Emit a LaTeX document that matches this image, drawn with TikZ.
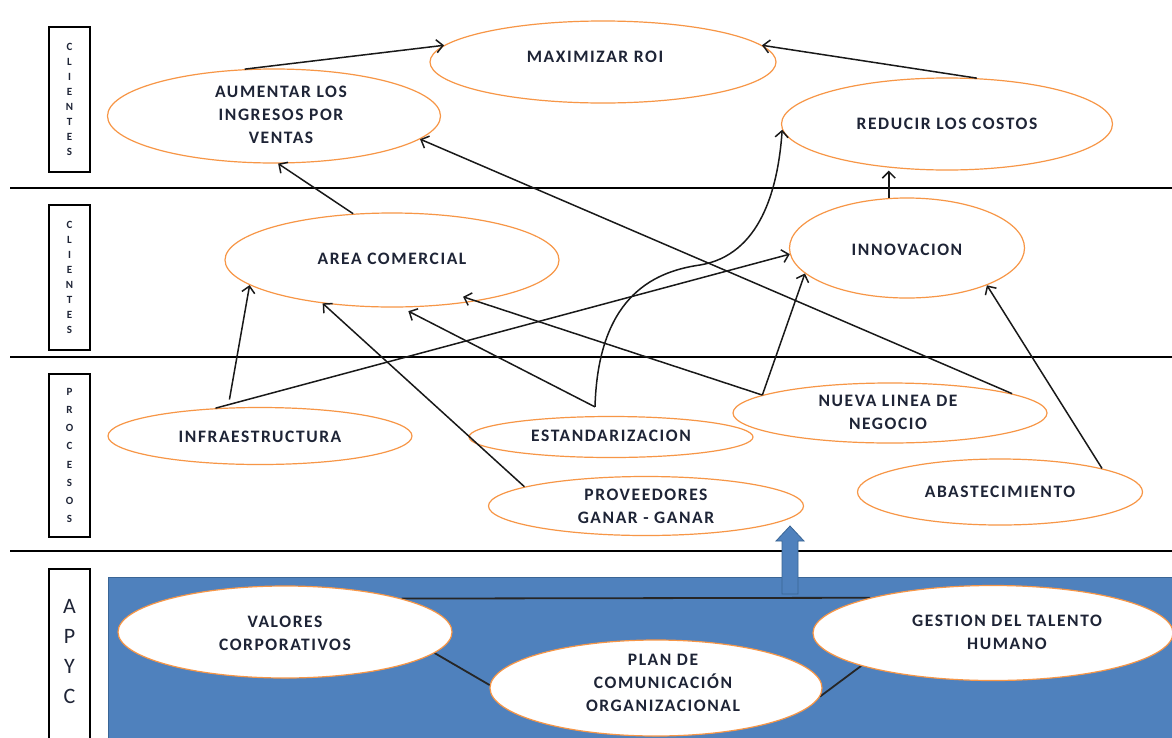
\documentclass[tikz,border=0pt]{standalone}
\usepackage{fontspec}
\setmainfont{Carlito}
\newfontfamily\lblfamily[LetterSpace=9]{Carlito}
\newcommand\lblfont{\lblfamily\bfseries\fontsize{17.5}{23}\selectfont}
\newcommand\sidefont{\bfseries\fontsize{11}{15}\selectfont}
\usetikzlibrary{shapes.geometric,arrows.meta,calc}
\definecolor{ovalline}{HTML}{F79646}
\definecolor{apycblue}{HTML}{4F81BD}
\definecolor{apycedge}{HTML}{3A6595}
\definecolor{ink}{HTML}{1E2436}
\pgfdeclarelayer{back}
\pgfdeclarelayer{mid}
\pgfsetlayers{back,mid,main}
\begin{document}
\begin{tikzpicture}[x=1pt,y=-1pt,
  oval/.style={ellipse, draw=ovalline, fill=white, line width=1.2pt, inner sep=0pt},
  lbl/.style={align=center, text=ink, font=\lblfont, inner sep=0pt},
  arr/.style={draw=black!90, line width=1.5pt, -{Straight Barb[length=6.5pt,width=13pt]}},
  link/.style={draw=black!85, line width=1.8pt},
  band/.style={draw=black, line width=1.5pt},
  sidebox/.style={draw=black, line width=1.8pt, minimum width=41pt, inner sep=0pt, align=center, text=ink, font=\sidefont}]
\useasboundingbox (0,0) rectangle (1172,737);

% perspective bands and the support area
\begin{pgfonlayer}{back}
  \fill[white] (0,0) rectangle (1172,737);
  \draw[band] (10,188) -- (1172,188);
  \draw[band] (10,357) -- (1172,357);
  \draw[band] (10,551) -- (1172,551);
  \fill[apycblue] (108,577) rectangle (1180,745);
  \draw[apycedge, line width=1pt] (1180,577) -- (108,577) -- (108,745);
\end{pgfonlayer}

% side labels
\node[sidebox, minimum height=145pt] (s1) at (69.5,99.5) {C\\L\\I\\E\\N\\T\\E\\S};
\node[sidebox, minimum height=145pt] (s2) at (69.5,277.5) {C\\L\\I\\E\\N\\T\\E\\S};
\node[sidebox, minimum height=163pt, font=\bfseries\fontsize{11}{18.1}\selectfont] (s3) at (69.5,455.5) {P\\R\\O\\C\\E\\S\\O\\S};
\draw[line width=1.8pt] (49,745) -- (49,569) -- (90,569) -- (90,745);
\node[text=ink, font=\fontsize{22}{30}\selectfont, align=center] (s4) at (69.5,652) {A\\P\\Y\\C};

% block arrow from the support layer
\draw[fill=apycblue, draw=apycedge, line width=0.8pt]
  (782,594) -- (782,541) -- (776,541) -- (790,526) -- (804,541) -- (798,541) -- (798,594) -- cycle;

% objectives
\node[oval, minimum width=346pt, minimum height=82pt] (maxroi) at (603,62) {};
\node[lbl] (maxroi-t) at (595,57) {MAXIMIZAR ROI};
\node[oval, minimum width=333pt, minimum height=94pt] (aum) at (274,116) {};
\node[lbl] (aum-t) at (281,115) {AUMENTAR LOS\\INGRESOS POR\\VENTAS};
\node[oval, minimum width=331pt, minimum height=92pt] (red) at (947,124) {};
\node[lbl] (red-t) at (947,124) {REDUCIR LOS COSTOS};
\node[oval, minimum width=334pt, minimum height=94pt] (area) at (392,260) {};
\node[lbl] (area-t) at (392,259) {AREA COMERCIAL};
\node[oval, minimum width=235pt, minimum height=100pt] (innov) at (907,248) {};
\node[lbl] (innov-t) at (907,250) {INNOVACION};
\node[oval, minimum width=304pt, minimum height=57pt] (infra) at (260,436) {};
\node[lbl] (infra-t) at (260,437) {INFRAESTRUCTURA};
\node[oval, minimum width=284pt, minimum height=41pt] (estand) at (611,437) {};
\node[lbl] (estand-t) at (611,436) {ESTANDARIZACION};
\node[oval, minimum width=314pt, minimum height=60pt] (nueva) at (890,413) {};
\node[lbl] (nueva-t) at (888,412) {NUEVA LINEA DE\\NEGOCIO};
\node[oval, minimum width=315pt, minimum height=59pt] (prov) at (646,506) {};
\node[lbl] (prov-t) at (646,506) {PROVEEDORES\\GANAR - GANAR};
\node[oval, minimum width=285pt, minimum height=66pt] (abast) at (1000,492) {};
\node[lbl] (abast-t) at (1000,492) {ABASTECIMIENTO};

% support layer
\node[oval, minimum width=334pt, minimum height=92pt] (valores) at (285,632) {};
\node[lbl] (valores-t) at (285,633) {VALORES\\CORPORATIVOS};
\node[oval, minimum width=332pt, minimum height=96pt] (plan) at (656,688) {};
\node[lbl] (plan-t) at (663,683) {PLAN DE\\COMUNICACIÓN\\ORGANIZACIONAL};
\node[oval, minimum width=360pt, minimum height=95pt] (gestion) at (993,633) {};
\node[lbl] (gestion-t) at (1007,632) {GESTION DEL TALENTO\\HUMANO};

\begin{pgfonlayer}{mid}
  \draw[link] (valores.16) -- (gestion.164);
  \draw[link] (valores.-8) -- (plan.179);
  \draw[link] (plan.-3) -- (gestion.-166);
\end{pgfonlayer}

% cause-effect links
\coordinate (infra-top) at ([shift={(0,-8)}]infra.137);
\coordinate (estand-top) at ([shift={(-16,-9)}]estand.north);
\coordinate (nueva-v) at (nueva.172);

\draw[arr] (aum.122) -- (maxroi.174);
\draw[arr] (red.57) -- (maxroi.6);
\draw[arr] (area.130) -- (aum.-85);
\draw[arr] (nueva.9) -- (aum.-9);
\draw[arr] (infra-top) -- (area.190);
\draw[arr] (infra.148) -- (innov.183);
\draw[arr] (prov.171) -- (area.212);
\draw[arr, shorten >=8pt] (estand-top) -- (area.-79);
\draw[arr] (estand-top) .. controls (598,300) and (650,272) .. (700,265)
  .. controls (760,255) and (778,190) .. (red.182);
\draw[arr, shorten >=-14pt] (nueva-v) -- (area.-26);
\draw[arr] (nueva-v) -- (innov.194);
\draw[arr] (abast.13) -- (innov.-25);
\draw[arr] (innov.110) -- (innov.110 |- red.south);
\end{tikzpicture}
\end{document}
